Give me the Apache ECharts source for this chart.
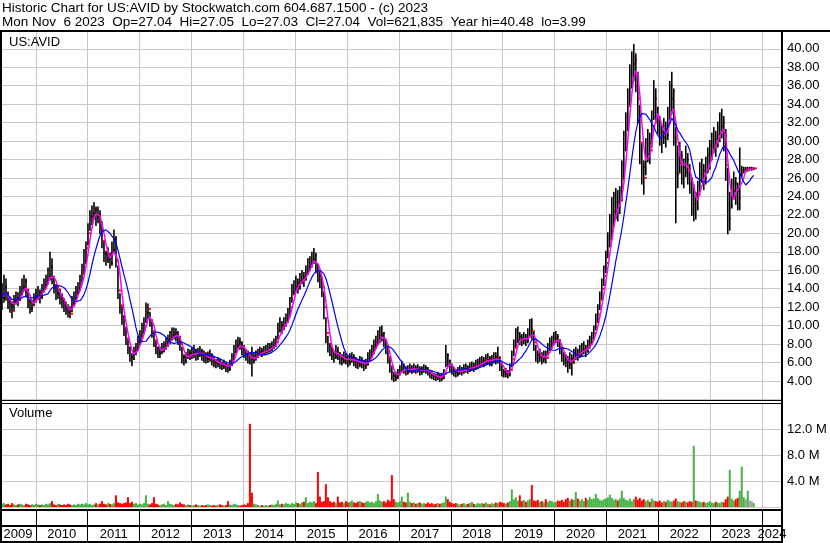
<!DOCTYPE html>
<html>
<head>
<meta charset="utf-8">
<title>Historic Chart for US:AVID</title>
<script src="https://cdn.jsdelivr.net/npm/echarts/dist/echarts.min.js"></script>
<style>
	html, body { margin: 0; padding: 0; background: #fff; }
	#chart { width: 830px; height: 543px; }
</style>
</head>
<body>
<div id="chart"></div>
<script>
/*
 Historic price / volume chart for US:AVID, one bar every two weeks
 from May 2009 to Nov 2023. Values.
*/

/* x of bar i = startYear + i * stepYears (fractional years) */
var startYear = 2009.347;
var stepYears = 14.08 / 365.25;

var yearLabels = ['2009', '2010', '2011', '2012', '2013', '2014', '2015', '2016',
	'2017', '2018', '2019', '2020', '2021', '2022', '2023', '2024'];

var priceTicks = { min: 2, max: 41.87, step: 2 };
var volumeTicks = { min: 0, max: 16, step: 4 };

var closes = [
	13.0, 14.2, 13.4, 12.6, 12.2, 11.6, 12.6, 13.0, 12.8, 13.4,
	14.2, 14.8, 13.9, 12.6, 11.9, 12.2, 12.9, 13.2, 13.6, 13.1,
	13.8, 14.4, 14.8, 15.3, 16.4, 15.2, 14.2, 13.5, 13.8, 13.0,
	12.6, 12.2, 11.8, 11.5, 11.3, 12.4, 13.0, 13.6, 14.0, 14.6,
	15.6, 17.0, 18.4, 20.0, 21.8, 22.2, 22.6, 21.8, 22.0, 21.2,
	19.2, 17.8, 17.2, 17.6, 16.8, 18.2, 19.4, 17.0, 13.8, 12.2,
	11.0, 9.8, 8.6, 7.6, 6.6, 6.4, 7.2, 7.4, 8.2, 8.6,
	9.4, 10.0, 11.4, 11.8, 10.6, 9.4, 8.4, 7.6, 7.0, 7.2,
	7.4, 7.8, 8.0, 8.4, 8.6, 9.0, 9.2, 9.0, 8.6, 8.0,
	6.6, 6.2, 6.6, 7.0, 6.8, 7.0, 7.2, 6.8, 7.0, 7.2,
	6.8, 6.6, 6.4, 6.6, 6.8, 6.2, 6.0, 5.9, 6.1, 5.8,
	5.6, 5.8, 5.5, 5.3, 5.8, 6.4, 7.2, 7.8, 8.2, 8.0,
	7.4, 7.2, 6.8, 6.6, 6.4, 6.2, 6.6, 6.8, 7.0, 7.2,
	7.0, 7.2, 7.3, 7.6, 7.5, 7.8, 8.0, 8.2, 9.4, 10.0,
	9.8, 10.2, 10.6, 11.0, 12.0, 13.6, 14.2, 14.6, 14.2, 14.8,
	15.2, 15.0, 15.8, 16.4, 16.8, 17.2, 17.6, 16.6, 15.4, 15.0,
	14.2, 12.0, 9.2, 7.8, 7.4, 7.0, 6.6, 7.2, 7.0, 6.4,
	6.2, 6.6, 6.3, 6.0, 6.4, 6.6, 6.2, 6.0, 5.8, 6.2,
	6.0, 5.6, 5.8, 6.4, 6.8, 7.2, 7.8, 8.2, 8.6, 9.0,
	9.2, 8.4, 7.6, 6.6, 5.6, 4.6, 4.4, 4.5, 4.8, 5.2,
	5.6, 5.3, 5.0, 5.2, 5.4, 5.2, 5.4, 5.2, 5.3, 5.0,
	5.2, 5.4, 5.2, 5.0, 4.7, 4.6, 4.5, 4.4, 4.5, 4.3,
	4.4, 4.8, 6.8, 6.2, 5.6, 5.2, 5.0, 4.8, 5.0, 5.2,
	5.0, 5.3, 5.4, 5.2, 5.5, 5.6, 5.4, 5.7, 5.8, 6.0,
	6.2, 6.0, 6.3, 6.4, 6.1, 6.2, 6.6, 6.4, 6.6, 5.8,
	5.0, 4.8, 4.9, 4.7, 5.2, 6.4, 7.6, 8.4, 8.8, 8.6,
	8.4, 8.6, 8.4, 8.8, 9.6, 9.4, 8.2, 6.8, 6.6, 6.8,
	6.4, 6.6, 6.5, 7.4, 8.0, 8.2, 8.6, 8.8, 8.4, 7.6,
	6.8, 6.4, 6.2, 5.8, 6.4, 6.0, 6.8, 7.0, 6.8, 7.2,
	7.4, 7.6, 7.2, 7.8, 8.2, 8.6, 9.2, 10.4, 11.2, 12.8,
	14.0, 15.4, 16.8, 18.6, 20.2, 21.6, 22.4, 23.4, 22.8, 23.6,
	25.8, 29.2, 31.6, 33.8, 36.4, 38.4, 38.8, 37.0, 34.6, 29.8,
	27.2, 26.0, 28.6, 29.8, 29.0, 31.6, 34.6, 33.6, 32.2, 31.0,
	30.4, 31.2, 30.6, 32.0, 34.6, 35.4, 31.8, 26.4, 27.6, 28.4,
	27.2, 26.6, 28.0, 27.0, 25.8, 23.2, 24.2, 22.8, 24.2, 26.4,
	26.8, 26.0, 26.8, 28.0, 28.6, 29.4, 30.2, 29.6, 30.8, 31.6,
	32.0, 30.6, 27.4, 21.6, 23.0, 24.6, 25.4, 24.6, 23.8, 26.6,
	26.8, 26.9, 26.9, 27.0, 27.0, 27.0, 27.04
];

var highs = [
	14.5, 15.4, 15.0, 13.6, 13.0, 12.5, 13.2, 13.6, 13.5, 14.2,
	15.0, 15.4, 15.0, 13.8, 12.8, 12.7, 13.4, 13.9, 14.2, 13.8,
	14.4, 15.0, 15.4, 16.2, 17.9, 17.2, 15.3, 14.4, 14.3, 13.9,
	13.4, 12.9, 12.5, 12.2, 12.0, 13.1, 13.6, 14.2, 14.6, 15.4,
	16.6, 18.2, 19.0, 21.0, 22.4, 22.9, 23.3, 22.8, 22.8, 22.4,
	21.0, 19.0, 18.0, 18.4, 17.8, 19.0, 20.3, 19.6, 16.4, 13.4,
	12.0, 11.0, 9.6, 8.4, 7.6, 6.9, 7.6, 8.0, 8.8, 9.4,
	10.2, 10.8, 12.4, 12.3, 11.4, 10.4, 9.2, 8.2, 7.6, 7.6,
	8.0, 8.2, 8.6, 8.9, 9.3, 9.7, 9.7, 9.6, 9.3, 8.8,
	7.6, 6.8, 7.0, 7.4, 7.3, 7.6, 7.8, 7.4, 7.5, 7.7,
	7.4, 7.2, 7.0, 7.1, 7.3, 6.9, 6.5, 6.3, 6.5, 6.3,
	6.0, 6.2, 5.9, 5.7, 6.2, 6.9, 7.8, 8.4, 8.7, 8.6,
	8.2, 7.8, 7.4, 7.2, 7.0, 7.6, 7.0, 7.2, 7.4, 7.6,
	7.5, 7.7, 7.8, 8.0, 8.0, 8.2, 8.5, 8.8, 10.2, 10.8,
	10.4, 10.8, 11.2, 11.8, 13.0, 14.4, 14.8, 15.3, 15.0, 15.6,
	15.9, 15.7, 16.4, 17.2, 17.4, 17.9, 18.3, 17.8, 16.6, 15.8,
	15.2, 13.6, 10.8, 8.8, 8.0, 7.6, 7.2, 7.8, 7.6, 7.0,
	6.8, 7.1, 6.9, 6.6, 6.9, 7.0, 6.8, 6.5, 6.3, 6.6,
	6.5, 6.2, 6.3, 7.0, 7.3, 7.8, 8.4, 8.8, 9.4, 9.8,
	9.9, 9.2, 8.4, 7.6, 6.4, 5.4, 4.9, 4.9, 5.2, 5.6,
	6.1, 5.8, 5.5, 5.6, 5.8, 5.6, 5.8, 5.6, 5.7, 5.5,
	5.5, 5.7, 5.6, 5.4, 5.1, 5.0, 4.8, 4.7, 4.9, 4.7,
	4.8, 5.2, 7.8, 6.9, 6.2, 5.8, 5.4, 5.2, 5.4, 5.6,
	5.4, 5.7, 5.8, 5.6, 5.9, 6.0, 5.9, 6.2, 6.3, 6.5,
	6.6, 6.5, 6.8, 6.9, 6.6, 6.7, 7.0, 7.0, 7.6, 6.5,
	5.6, 5.2, 5.3, 5.1, 5.8, 7.2, 8.4, 9.6, 9.8, 9.2,
	9.0, 9.2, 9.0, 9.6, 10.6, 10.7, 9.2, 7.8, 7.2, 7.4,
	7.0, 7.2, 7.2, 8.0, 8.6, 8.8, 9.2, 9.3, 9.0, 8.4,
	7.6, 7.0, 6.8, 6.6, 7.0, 6.8, 7.4, 7.6, 7.4, 7.8,
	8.0, 8.2, 7.8, 8.4, 8.8, 9.2, 9.9, 11.2, 12.2, 13.6,
	15.0, 16.4, 18.0, 20.0, 22.0, 23.8, 24.4, 24.8, 24.6, 25.0,
	27.8, 31.0, 33.0, 35.6, 38.2, 39.6, 40.4, 39.4, 37.4, 33.8,
	29.6, 27.8, 30.2, 31.2, 30.8, 33.2, 36.5, 35.6, 33.6, 32.6,
	31.6, 32.4, 32.0, 33.6, 36.4, 37.4, 35.6, 31.4, 29.4, 29.8,
	28.8, 28.0, 29.4, 28.6, 27.4, 26.0, 25.2, 24.4, 25.6, 27.6,
	28.0, 27.4, 28.2, 29.2, 30.0, 30.8, 31.4, 31.0, 32.0, 33.0,
	33.4, 32.6, 31.2, 27.0, 24.4, 25.8, 26.6, 26.0, 25.4, 29.2,
	27.2, 27.1, 27.1, 27.1, 27.1, 27.1, 27.05
];

var lows = [
	11.8, 12.6, 12.8, 11.9, 11.5, 10.9, 11.8, 12.4, 12.2, 12.8,
	13.4, 13.9, 13.2, 12.0, 11.4, 11.6, 12.3, 12.6, 12.9, 12.5,
	13.0, 13.7, 14.1, 14.6, 15.0, 14.6, 13.6, 12.9, 13.0, 12.4,
	12.0, 11.6, 11.3, 11.0, 10.9, 11.6, 12.3, 12.9, 13.4, 13.9,
	14.8, 15.8, 16.8, 18.8, 20.4, 21.0, 21.6, 20.9, 21.2, 20.0,
	18.5, 17.0, 16.6, 16.9, 16.3, 16.6, 18.0, 16.4, 13.0, 11.4,
	10.2, 9.0, 8.0, 7.0, 6.2, 5.7, 6.4, 6.9, 7.4, 8.0,
	8.8, 9.2, 10.4, 10.8, 10.0, 8.8, 7.8, 7.0, 6.6, 6.6,
	7.0, 7.2, 7.5, 7.8, 8.1, 8.5, 8.6, 8.4, 8.0, 7.4,
	6.0, 5.8, 6.0, 6.5, 6.4, 6.5, 6.6, 6.3, 6.4, 6.7,
	6.3, 6.1, 6.0, 6.1, 6.2, 5.8, 5.6, 5.5, 5.6, 5.4,
	5.3, 5.4, 5.1, 5.0, 5.2, 5.7, 6.4, 7.1, 7.6, 7.5,
	6.9, 6.6, 6.3, 6.0, 5.9, 4.6, 6.0, 6.3, 6.6, 6.8,
	6.7, 6.9, 6.9, 7.1, 7.2, 7.3, 7.6, 7.8, 8.6, 9.4,
	9.2, 9.6, 10.0, 10.4, 11.2, 12.6, 13.4, 13.8, 13.6, 14.0,
	14.6, 14.3, 15.0, 15.6, 16.0, 16.4, 16.8, 15.8, 14.8, 14.2,
	13.2, 10.8, 8.2, 7.2, 6.8, 6.4, 6.1, 6.5, 6.4, 5.9,
	5.8, 6.0, 5.9, 5.6, 5.8, 6.1, 5.7, 5.5, 5.4, 5.6,
	5.5, 5.2, 5.4, 5.8, 6.2, 6.6, 7.0, 7.6, 8.0, 8.2,
	8.4, 7.8, 7.0, 6.0, 5.0, 4.2, 4.0, 4.1, 4.3, 4.7,
	5.0, 4.9, 4.7, 4.8, 5.0, 4.9, 5.0, 4.9, 5.0, 4.7,
	4.8, 5.0, 4.9, 4.7, 4.4, 4.3, 4.2, 4.1, 4.2, 4.0,
	4.1, 4.3, 5.6, 5.6, 5.1, 4.8, 4.6, 4.5, 4.6, 4.8,
	4.7, 4.9, 5.0, 4.9, 5.1, 5.2, 5.1, 5.3, 5.4, 5.6,
	5.7, 5.6, 5.8, 5.9, 5.7, 5.7, 6.0, 5.9, 6.0, 5.2,
	4.6, 4.5, 4.5, 4.4, 4.6, 5.6, 6.8, 7.8, 8.2, 8.0,
	7.9, 8.1, 7.9, 8.2, 8.9, 8.6, 7.4, 6.2, 6.0, 6.2,
	5.9, 6.1, 6.0, 6.8, 7.4, 7.6, 8.0, 8.2, 7.8, 7.0,
	6.2, 5.8, 5.6, 5.0, 5.4, 4.7, 6.0, 6.4, 6.3, 6.6,
	6.8, 7.0, 6.7, 7.2, 7.6, 8.0, 8.6, 9.6, 10.4, 11.8,
	13.0, 14.4, 15.8, 17.4, 18.6, 19.4, 20.8, 21.6, 21.4, 22.2,
	23.6, 26.0, 29.0, 31.2, 34.0, 35.8, 36.6, 35.4, 32.0, 27.6,
	25.4, 24.3, 26.4, 27.8, 27.6, 29.4, 32.4, 32.0, 30.8, 29.6,
	28.8, 29.8, 29.4, 30.2, 32.4, 33.0, 29.6, 21.2, 25.0, 26.6,
	25.4, 25.0, 26.2, 25.4, 24.4, 22.0, 21.4, 21.6, 22.6, 24.6,
	25.6, 24.8, 25.4, 26.6, 27.0, 28.0, 28.8, 28.4, 29.4, 30.0,
	30.4, 29.0, 25.8, 20.0, 20.4, 22.8, 23.8, 23.2, 22.6, 22.6,
	26.2, 26.6, 26.7, 26.8, 26.9, 26.9, 27.0
];

/* volume in millions of shares */
var volumes = [
	0.5, 0.6, 0.4, 0.5, 0.3, 0.6, 0.4, 0.3, 0.4, 0.5,
	0.4, 0.3, 0.5, 0.4, 0.3, 0.4, 0.3, 0.5, 0.4, 0.3,
	0.4, 0.3, 0.5, 0.4, 0.6, 0.9, 0.4, 0.3, 0.5, 0.4,
	0.3, 0.4, 0.3, 0.5, 0.4, 0.3, 0.4, 0.3, 0.5, 0.4,
	0.5, 0.4, 0.6, 0.4, 0.5, 0.3, 0.4, 0.6, 0.4, 0.5,
	0.9, 0.5, 0.4, 0.6, 0.5, 0.4, 0.6, 1.8, 0.7, 0.6,
	0.5, 0.6, 0.7, 1.5, 0.6, 0.8, 0.5, 0.6, 0.4, 0.5,
	0.4, 0.6, 1.8, 0.5, 0.4, 0.6, 1.5, 0.5, 0.4, 0.3,
	0.4, 0.5, 0.3, 0.9, 0.5, 0.4, 0.3, 0.5, 0.4, 0.7,
	0.5, 0.4, 0.3, 0.4, 0.3, 0.2, 0.3, 0.4, 0.3, 0.2,
	0.3, 0.2, 0.3, 0.4, 0.3, 0.2, 0.3, 0.2, 0.3, 0.4,
	0.3, 0.2, 0.3, 0.9, 0.4, 0.3, 0.5, 0.4, 0.3, 0.2,
	0.3, 0.4, 0.3, 0.6, 12.8, 2.2, 0.5, 0.4, 0.3, 0.2,
	0.3, 0.2, 0.3, 0.2, 0.3, 0.4, 0.3, 0.5, 1.0, 0.4,
	0.5, 0.4, 0.6, 0.5, 0.4, 0.6, 0.5, 0.7, 0.6, 0.5,
	0.7, 0.8, 1.5, 0.6, 0.8, 0.7, 0.9, 0.6, 5.4, 1.6,
	0.8, 0.9, 3.5, 1.5, 0.9, 0.7, 0.8, 0.6, 1.6, 0.7,
	0.8, 0.6, 0.9, 0.7, 0.8, 1.0, 0.7, 0.6, 0.8, 0.9,
	0.7, 0.6, 0.8, 0.9, 0.7, 0.8, 0.6, 0.9, 2.0, 1.0,
	0.8, 0.9, 0.7, 1.1, 0.9, 4.9, 1.2, 0.8, 0.7, 0.9,
	1.6, 0.8, 0.7, 2.2, 0.8, 0.6, 0.7, 0.5, 0.6, 0.7,
	0.5, 0.6, 0.5, 0.7, 0.5, 0.6, 0.4, 0.5, 0.6, 0.5,
	0.6, 0.7, 1.6, 1.2, 0.8, 0.6, 0.5, 0.6, 0.5, 0.4,
	0.5, 0.6, 0.4, 0.5, 0.6, 0.8, 0.5, 0.4, 0.6, 0.5,
	0.6, 0.5, 0.7, 0.5, 0.4, 0.6, 0.5, 0.7, 0.6, 0.8,
	0.7, 0.6, 0.5, 0.7, 0.9, 2.7, 1.2, 1.5, 1.0, 1.8,
	0.9, 1.1, 0.8, 1.0, 1.2, 3.4, 1.0, 0.9, 1.1, 0.8,
	0.9, 0.7, 1.2, 0.8, 1.0, 0.9, 0.7, 0.8, 1.0, 0.9,
	1.1, 0.8, 1.2, 1.4, 1.0, 1.2, 1.1, 2.3, 1.3, 1.0,
	1.2, 0.9, 1.4, 1.1, 1.5, 1.2, 1.3, 2.0, 1.4, 1.1,
	1.0, 1.2, 1.3, 1.5, 1.9, 1.4, 1.1, 1.2, 1.0, 1.3,
	2.5, 1.4, 1.1, 1.0, 1.3, 0.9, 1.2, 1.6, 1.1, 1.4,
	1.0, 1.2, 0.9, 1.1, 0.8, 1.3, 1.0, 0.9, 0.8, 1.0,
	0.7, 0.9, 0.8, 1.1, 0.9, 0.8, 1.0, 1.3, 0.9, 0.8,
	0.7, 0.9, 0.8, 0.7, 0.9, 0.8, 9.4, 1.0, 0.9, 0.8,
	0.7, 0.8, 0.6, 0.7, 0.9, 0.7, 0.6, 0.8, 0.7, 0.6,
	0.8, 0.7, 1.2, 1.6, 5.7, 1.3, 1.0, 1.2, 1.4, 2.5,
	6.2, 1.5, 1.2, 2.5, 1.0, 0.9, 0.6
];

var FONT = '"Liberation Sans", Arial, sans-serif';
var GRID_GRAY = '#c8c8c8';

function xAt(i) {
	return startYear + i * stepYears;
}

function movingAverage(values, n) {
	return values.map(function(v, i) {
		var from = Math.max(0, i - n + 1);
		var sum = 0;
		for (var k = from; k <= i; k++) {
			sum += values[k];
		}
		return sum / (i - from + 1);
	});
}

/* black high-low bar with a red close mark to its right */
function renderPriceBar(params, api) {
	var hi = api.coord([api.value(0), api.value(2)]);
	var lo = api.coord([api.value(0), api.value(3)]);
	var cl = api.coord([api.value(0), api.value(1)]);
	return {
		type : 'group',
		children : [ {
			type : 'line',
			shape : { x1 : hi[0], y1 : hi[1] - 1, x2 : lo[0], y2 : lo[1] + 1 },
			style : { stroke : '#000', lineWidth : 1.6 }
		}, {
			type : 'rect',
			shape : { x : cl[0] + 1, y : cl[1] - 1, width : 2, height : 2 },
			style : { fill : '#ff0000' }
		} ]
	};
}

/* year name centred in the visible part of its year */
function renderYearLabel(params, api) {
	var cs = params.coordSys;
	var year = api.value(0);
	var left = Math.max(api.coord([year, 0])[0], 0);
	var right = Math.min(api.coord([year + 1, 0])[0], cs.x + cs.width);
	var y = api.coord([year, api.value(1)])[1];
	return {
		type : 'text',
		x : (left + right) / 2,
		y : y,
		style : {
			text : String(year),
			align : 'center',
			verticalAlign : 'middle',
			font : '13px ' + FONT,
			fill : '#000'
		}
	};
}

function volumeColor(params) {
	var i = params.dataIndex;
	if (i === 0 || closes[i] > closes[i - 1]) {
		return '#44b244';
	}
	if (closes[i] < closes[i - 1]) {
		return '#ff0000';
	}
	return '#a0a0a0';
}

var barData = closes.map(function(c, i) {
	return [ xAt(i), c, highs[i], lows[i] ];
});
var maShort = movingAverage(closes, 4).map(function(v, i) {
	return [ xAt(i), v ];
});
var maLong = movingAverage(closes, 11).map(function(v, i) {
	return [ xAt(i), v ];
});
var volumeData = volumes.map(function(v, i) {
	return [ xAt(i), v ];
});
var yearData = yearLabels.map(function(y) {
	return [ Number(y), 0.25 ];
});

function timeAxis(gridIndex, lineColor) {
	return {
		type : 'value',
		gridIndex : gridIndex,
		min : 2009,
		max : 2024.386,
		interval : 1,
		axisLine : { show : false },
		axisTick : { show : false },
		axisLabel : { show : false },
		splitLine : { show : true, lineStyle : { color : lineColor, width : 1 } }
	};
}

function panel(top, height) {
	return { left : -16, right : 48, top : top, height : height, outerBoundsMode : 'none', containLabel : false };
}

function frameLine(x1, y1, x2, y2, width) {
	return {
		type : 'line',
		z : 100,
		shape : { x1 : x1, y1 : y1, x2 : x2, y2 : y2 },
		style : { stroke : '#000', lineWidth : width }
	};
}

function plainText(text, x, y, size) {
	return {
		type : 'text',
		z : 100,
		x : x,
		y : y,
		style : {
			text : text,
			font : size + 'px ' + FONT,
			fill : '#000',
			verticalAlign : 'middle'
		}
	};
}

var chart = echarts.init(document.getElementById('chart'));
chart.setOption({
	animation : false,
	backgroundColor : '#fff',
	textStyle : { fontFamily : FONT },
	grid : [ panel(31.5, 368), panel(403, 104), panel(510, 32) ],
	xAxis : [ timeAxis(0, GRID_GRAY), timeAxis(1, GRID_GRAY), timeAxis(2, '#000') ],
	yAxis : [ {
		type : 'value',
		gridIndex : 0,
		position : 'right',
		min : priceTicks.min,
		max : priceTicks.max,
		interval : priceTicks.step,
		axisLine : { show : false },
		axisTick : { show : false },
		splitLine : { lineStyle : { color : GRID_GRAY } },
		axisLabel : {
			color : '#000',
			fontSize : 13,
			margin : 5,
			formatter : function(v) {
				return (v >= 4 && v <= 40 && Math.abs(v - Math.round(v)) < 1e-6) ? v.toFixed(2) : '';
			}
		}
	}, {
		type : 'value',
		gridIndex : 1,
		position : 'right',
		min : volumeTicks.min,
		max : volumeTicks.max,
		interval : volumeTicks.step,
		axisLine : { show : false },
		axisTick : { show : false },
		splitLine : { lineStyle : { color : GRID_GRAY } },
		axisLabel : {
			color : '#000',
			fontSize : 13,
			margin : 5,
			formatter : function(v) {
				return (v > 0 && v < volumeTicks.max) ? v.toFixed(1) + ' M' : '';
			}
		}
	}, {
		type : 'value',
		gridIndex : 2,
		min : 0,
		max : 1,
		show : false
	} ],
	series : [ {
		name : 'price',
		type : 'custom',
		xAxisIndex : 0,
		yAxisIndex : 0,
		renderItem : renderPriceBar,
		encode : { x : 0, y : [ 1, 2, 3 ] },
		data : barData
	}, {
		name : 'short average',
		type : 'line',
		xAxisIndex : 0,
		yAxisIndex : 0,
		showSymbol : false,
		lineStyle : { color : '#ff00ff', width : 1.5 },
		data : maShort
	}, {
		name : 'long average',
		type : 'line',
		xAxisIndex : 0,
		yAxisIndex : 0,
		showSymbol : false,
		lineStyle : { color : '#0000ff', width : 1.2 },
		data : maLong
	}, {
		name : 'volume',
		type : 'bar',
		xAxisIndex : 1,
		yAxisIndex : 1,
		barWidth : 2,
		itemStyle : { color : volumeColor },
		data : volumeData
	}, {
		name : 'years',
		type : 'custom',
		xAxisIndex : 2,
		yAxisIndex : 2,
		clip : false,
		renderItem : renderYearLabel,
		data : yearData
	} ],
	graphic : [
		plainText('Historic Chart for US:AVID by Stockwatch.com 604.687.1500 - (c) 2023', 2, 8.5, 13.5),
		plainText('Mon Nov  6 2023  Op=27.04  Hi=27.05  Lo=27.03  Cl=27.04  Vol=621,835  Year hi=40.48  lo=3.99', 2, 22.5, 13.5),
		plainText('US:AVID', 9, 42, 13),
		plainText('Volume', 9, 413.5, 13),
		frameLine(0, 31, 830, 31, 2),
		frameLine(1, 30, 1, 543, 2),
		frameLine(782, 30, 782, 543, 2),
		frameLine(0, 400.5, 782, 400.5, 1),
		frameLine(0, 403.5, 782, 403.5, 1),
		frameLine(0, 510, 782, 510, 2),
		frameLine(0, 526, 782, 526, 2),
		frameLine(0, 542, 782, 542, 2)
	]
});
</script>
</body>
</html>
